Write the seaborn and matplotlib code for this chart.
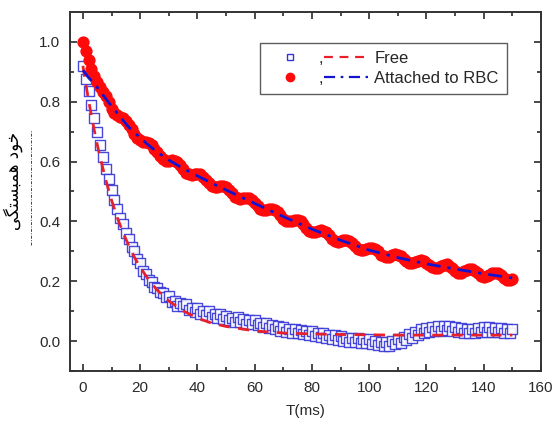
import matplotlib
matplotlib.use("Agg")
import matplotlib.pyplot as plt
from matplotlib.lines import Line2D
import seaborn as sns

# time axis (ms), one sample per ms
t_data = list(range(0, 151))

# free particles - autocorrelation
free_vals = [
    0.92, 0.875, 0.835, 0.79, 0.745, 0.70, 0.655, 0.615, 0.575, 0.54,
    0.505, 0.47, 0.44, 0.41, 0.39, 0.36, 0.34, 0.315, 0.30, 0.275,
    0.26, 0.235, 0.225, 0.205, 0.198, 0.182, 0.178, 0.163, 0.16, 0.148,
    0.150, 0.131, 0.135, 0.118, 0.128, 0.116, 0.123, 0.104, 0.109, 0.096,
    0.109, 0.092, 0.099, 0.086, 0.100, 0.082, 0.089, 0.076, 0.090, 0.074,
    0.085, 0.070, 0.077, 0.064, 0.080, 0.064, 0.073, 0.058, 0.071, 0.056,
    0.069, 0.053, 0.061, 0.047, 0.062, 0.045, 0.054, 0.040, 0.052, 0.035,
    0.047, 0.031, 0.040, 0.027, 0.041, 0.026, 0.036, 0.023, 0.035, 0.020,
    0.033, 0.017, 0.026, 0.013, 0.028, 0.012, 0.021, 0.007, 0.020, 0.003,
    0.017, 0.001, 0.012, -0.002, 0.012, -0.003, 0.009, -0.006, 0.007, -0.008,
    0.006, -0.010, 0.001, -0.014, -0.002, -0.018, -0.004, -0.016, 0.001, -0.011,
    0.007, -0.005, 0.014, 0.004, 0.024, 0.012, 0.031, 0.019, 0.039, 0.026,
    0.044, 0.031, 0.047, 0.033, 0.049, 0.035, 0.051, 0.036, 0.049, 0.033,
    0.046, 0.030, 0.044, 0.028, 0.042, 0.027, 0.041, 0.028, 0.044, 0.030,
    0.046, 0.031, 0.047, 0.031, 0.045, 0.029, 0.043, 0.027, 0.042, 0.027,
    0.040,
]

# attached to RBC - autocorrelation
rbc_vals = [
    1.0, 0.968, 0.938, 0.91, 0.886, 0.866, 0.849, 0.833, 0.818, 0.80,
    0.777, 0.763, 0.755, 0.750, 0.744, 0.737, 0.723, 0.709, 0.692, 0.680,
    0.671, 0.666, 0.666, 0.662, 0.656, 0.643, 0.631, 0.617, 0.608, 0.603,
    0.603, 0.604, 0.603, 0.597, 0.587, 0.574, 0.563, 0.557, 0.556, 0.558,
    0.559, 0.557, 0.549, 0.539, 0.527, 0.518, 0.514, 0.516, 0.518, 0.519,
    0.514, 0.505, 0.494, 0.483, 0.477, 0.475, 0.478, 0.479, 0.479, 0.472,
    0.463, 0.451, 0.442, 0.438, 0.437, 0.441, 0.442, 0.439, 0.431, 0.420,
    0.409, 0.402, 0.400, 0.401, 0.404, 0.404, 0.400, 0.391, 0.379, 0.369,
    0.364, 0.364, 0.368, 0.370, 0.369, 0.363, 0.353, 0.342, 0.334, 0.332,
    0.334, 0.338, 0.339, 0.336, 0.329, 0.319, 0.309, 0.304, 0.304, 0.307,
    0.310, 0.312, 0.307, 0.300, 0.289, 0.283, 0.280, 0.282, 0.287, 0.290,
    0.289, 0.283, 0.275, 0.266, 0.261, 0.261, 0.264, 0.269, 0.271, 0.269,
    0.262, 0.253, 0.246, 0.243, 0.245, 0.251, 0.255, 0.256, 0.251, 0.244,
    0.235, 0.229, 0.229, 0.233, 0.238, 0.242, 0.240, 0.235, 0.226, 0.218,
    0.215, 0.217, 0.222, 0.227, 0.229, 0.226, 0.220, 0.210, 0.205, 0.203,
    0.206,
]

# fitted curves
t_fit = [0, 1, 2, 3, 4, 5, 6, 8, 10, 12, 14, 16, 18, 20, 23, 26, 30, 35, 40,
         45, 50, 60, 70, 80, 90, 100, 110, 120, 130, 140, 150]
free_fit = [0.92, 0.86, 0.804, 0.752, 0.703, 0.657, 0.615, 0.538, 0.471, 0.413,
            0.363, 0.319, 0.280, 0.247, 0.204, 0.170, 0.134, 0.101, 0.077,
            0.060, 0.049, 0.034, 0.027, 0.024, 0.022, 0.021, 0.020, 0.020,
            0.020, 0.020, 0.020]
rbc_fit = [0.905, 0.893, 0.88, 0.87, 0.86, 0.848, 0.835, 0.81, 0.785, 0.762,
           0.738, 0.715, 0.697, 0.68, 0.654, 0.631, 0.605, 0.577, 0.552,
           0.528, 0.505, 0.46, 0.416, 0.374, 0.337, 0.304, 0.279, 0.258,
           0.241, 0.225, 0.211]

ylabel_fa = "\uFBFD\uFB95\uFE98\uFEB4\uFE92\uFEE4\uFEEB \uFEA9\uFEEE\uFEA7"  # خود همبستگی (shaped)

sns.set_style("ticks")
plt.rcParams["font.family"] = ["Liberation Sans", "DejaVu Sans"]

fig = plt.figure(figsize=(5.57, 4.25), dpi=100)
ax = fig.add_axes([0.1257, 0.127, 0.8456, 0.845])

sq_col = "#3434d8"
sns.scatterplot(x=t_data, y=free_vals, ax=ax, marker="s", s=46, color="white",
                edgecolor=sq_col, linewidth=1.0, alpha=0.9, zorder=2)
sns.scatterplot(x=t_data, y=rbc_vals, ax=ax, marker="o", s=78, color="#ff0a0a",
                edgecolor="#ff0a0a", linewidth=0, zorder=2)
sns.lineplot(x=t_fit, y=free_fit, ax=ax, color="#e8202a", linewidth=2.0,
             linestyle=(0, (4, 3)), zorder=3)
sns.lineplot(x=t_fit, y=rbc_fit, ax=ax, color="#1414d0", linewidth=2.0,
             linestyle=(0, (5, 2.5, 1.2, 2.5)), zorder=3)

ax.set_xlim(-4.5, 160)
ax.set_ylim(-0.1, 1.1)
ax.set_xticks(range(0, 161, 20))
ax.set_xticks(range(10, 160, 20), minor=True)
ax.set_yticks([0.0, 0.2, 0.4, 0.6, 0.8, 1.0])
ax.set_yticks([-0.1, 0.1, 0.3, 0.5, 0.7, 0.9], minor=True)
ax.set_yticklabels(["0.0", "0.2", "0.4", "0.6", "0.8", "1.0"])
ax.tick_params(which="both", direction="in", top=True, right=True,
               colors="#2a2a2a", labelsize=11, width=1.2)
ax.tick_params(which="major", length=5, pad=7)
ax.tick_params(which="minor", length=3)
for sp in ax.spines.values():
    sp.set_color("#333333")
    sp.set_linewidth(1.4)

ax.set_xlabel("T(ms)", fontsize=11, color="#2a2a2a", labelpad=7)
ax.set_ylabel(ylabel_fa, fontsize=12, family="DejaVu Sans", color="black")
ax.yaxis.set_label_coords(-0.1, 0.53)

# dashed guide next to the y label
fig.add_artist(Line2D([0.0557, 0.0557], [0.424, 0.694], transform=fig.transFigure,
                      color="#445", linewidth=0.7, linestyle=(0, (3, 1.5, 1, 1.5))))

# legend: marker , line label
h_sq = Line2D([], [], marker="s", linestyle="none", markersize=4.5,
              markerfacecolor="white", markeredgecolor=sq_col, markeredgewidth=1)
h_ci = Line2D([], [], marker="o", linestyle="none", markersize=6, color="#ff0a0a")
h_l1 = Line2D([], [], color="#e8202a", linewidth=1.6, linestyle=(0, (4, 3)))
h_l2 = Line2D([], [], color="#1414d0", linewidth=1.6, linestyle=(0, (5, 2.5, 1.2, 2.5)))
leg = ax.legend([h_sq, h_ci, h_l1, h_l2], [",", ",", "Free", "Attached to RBC"],
                ncol=2, loc="upper left", bbox_to_anchor=(0.403, 0.914),
                fontsize=12, frameon=True, fancybox=False, handlelength=2.6,
                columnspacing=0.1, handletextpad=0.4, borderpad=0.5,
                labelspacing=0.3, borderaxespad=0)
leg.get_frame().set_edgecolor("#333333")
leg.get_frame().set_linewidth(1.0)

fig.savefig("out.png", dpi=100)
